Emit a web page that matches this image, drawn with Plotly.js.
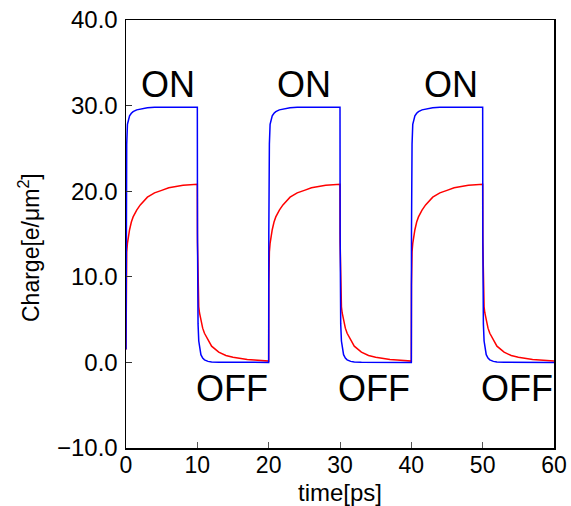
<!DOCTYPE html>
<html>
<head>
<meta charset="utf-8">
<script src="https://cdn.plot.ly/plotly-3.0.1.min.js"></script>
<style>html,body{margin:0;padding:0;background:#fff}#chart{width:571px;height:506px}</style>
</head>
<body>
<div id="chart"></div>
<script>
// time in ps
const time = [
  0,0.02,0.05,0.1,0.2,0.3,0.5,0.75,1,1.5,2,3,4,5,6,8,10,
  10.02,10.05,10.1,10.2,10.3,10.5,10.75,11,11.5,12,13,14,15,16,17,18,20,
  20.02,20.05,20.1,20.2,20.3,20.5,20.75,21,21.5,22,23,24,25,26,28,30,
  30.02,30.05,30.1,30.2,30.3,30.5,30.75,31,31.5,32,33,34,35,36,37,38,40,
  40.02,40.05,40.1,40.2,40.3,40.5,40.75,41,41.5,42,43,44,45,46,48,50,
  50.02,50.05,50.1,50.2,50.3,50.5,50.75,51,51.5,52,53,54,55,56,57,58,60
];
// blue series (charge, e/um^2)
const blueCharge = [
  1.5,15,22,25.5,27.8,28.3,28.8,29.1,29.3,29.5,29.6,29.75,29.8,29.8,29.8,29.8,29.8,
  15,8,4.5,2.5,1.7,0.9,0.5,0.3,0.12,0.05,0.02,0.01,0,0,0,0,0,
  15,22,25.5,27.8,28.3,28.8,29.1,29.3,29.5,29.6,29.75,29.8,29.8,29.8,29.8,29.8,
  15,8,4.5,2.5,1.7,0.9,0.5,0.3,0.12,0.05,0.02,0.01,0,0,0,0,0,
  15,22,25.5,27.8,28.3,28.8,29.1,29.3,29.5,29.6,29.75,29.8,29.8,29.8,29.8,29.8,
  15,8,4.5,2.5,1.7,0.9,0.5,0.3,0.12,0.05,0.02,0.01,0,0,0,0,0
];
// red series
const redCharge = [
  1.5,9,11.5,12.9,13.9,14.5,15.5,16.4,17.0,17.8,18.4,19.3,19.8,20.1,20.4,20.7,20.8,
  14,11.5,9,6.5,5.8,4.9,4.0,3.4,2.6,1.9,1.2,0.8,0.6,0.45,0.35,0.28,0.15,
  9,11.5,12.9,13.9,14.5,15.5,16.4,17.0,17.8,18.4,19.3,19.8,20.1,20.4,20.7,20.8,
  14,11.5,9,6.5,5.8,4.9,4.0,3.4,2.6,1.9,1.2,0.8,0.6,0.45,0.35,0.28,0.15,
  9,11.5,12.9,13.9,14.5,15.5,16.4,17.0,17.8,18.4,19.3,19.8,20.1,20.4,20.7,20.8,
  14,11.5,9,6.5,5.8,4.9,4.0,3.4,2.6,1.9,1.2,0.8,0.6,0.45,0.35,0.28,0.15
];
const labelText = ["ON","ON","ON","OFF","OFF","OFF"];
const labelX = [5.9,24.9,45.6,14.8,34.8,54.8];
const labelY = [32.5,32.5,32.5,-3.0,-3.0,-3.0];
const yTitle = 'Charge[e/μm<sup>2</sup>]';
const xTitle = 'time[ps]';

const font = "'Liberation Sans', Arial, Helvetica, sans-serif";

const traces = [
  {x: time, y: redCharge, type: 'scatter', mode: 'lines', line: {color: '#ff0000', width: 1.5}, hoverinfo: 'skip'},
  {x: time, y: blueCharge, type: 'scatter', mode: 'lines', line: {color: '#0000ff', width: 1.5}, hoverinfo: 'skip'}
];

const annotations = labelText.map((t, i) => ({
  x: labelX[i], y: labelY[i], xref: 'x', yref: 'y', text: t, showarrow: false,
  font: {family: font, size: 36, color: '#000'}, xanchor: 'center', yanchor: 'middle'
}));
annotations.push({
  xref: 'paper', yref: 'paper', x: 0, y: 0.5, xshift: -97, yshift: -14,
  text: yTitle, textangle: -90, showarrow: false,
  xanchor: 'center', yanchor: 'middle',
  font: {family: font, size: 23, color: '#000'}
});

const layout = {
  width: 571, height: 506,
  margin: {l: 126, r: 17, t: 20, b: 58},
  paper_bgcolor: '#fff', plot_bgcolor: '#fff',
  showlegend: false,
  font: {family: font, color: '#000'},
  xaxis: {
    range: [0, 60], dtick: 10, tick0: 0, showgrid: false, zeroline: false,
    showline: true, linecolor: '#000', linewidth: 1.5, mirror: true,
    ticks: 'inside', ticklen: 6, tickwidth: 1, tickcolor: '#555',
    ticklabelstandoff: -4,
    tickfont: {family: font, size: 23, color: '#000'},
    title: {text: xTitle, font: {family: font, size: 24, color: '#000'}, standoff: 18}
  },
  yaxis: {
    range: [-10, 40], dtick: 10, tick0: 0, showgrid: false, zeroline: false,
    showline: true, linecolor: '#000', linewidth: 1.5, mirror: true,
    ticks: 'inside', ticklen: 6, tickwidth: 1, tickcolor: '#333',
    tickformat: '.1f', ticklabelstandoff: 2,
    tickfont: {family: font, size: 24, color: '#000'}
  },
  annotations: annotations
};

Plotly.newPlot('chart', traces, layout, {displayModeBar: false, staticPlot: true});
</script>
</body>
</html>
